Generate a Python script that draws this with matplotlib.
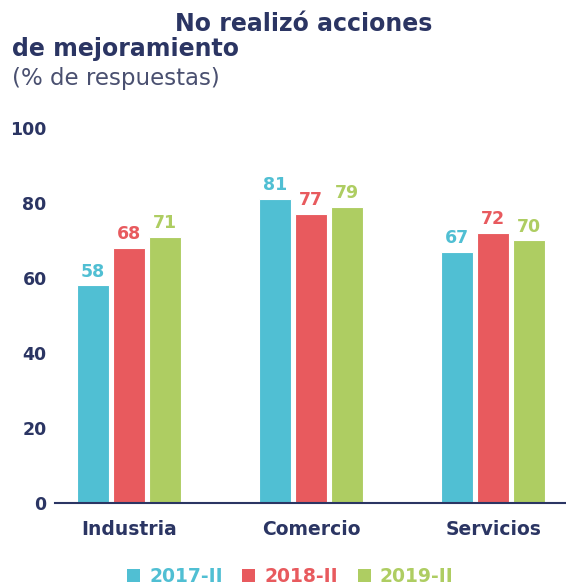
import matplotlib
matplotlib.use("Agg")
import matplotlib.pyplot as plt
from matplotlib.patches import Patch
import numpy as np

categories = ["Industria", "Comercio", "Servicios"]
series_names = ["2017-II", "2018-II", "2019-II"]
values_2017 = [58, 81, 67]
values_2018 = [68, 77, 72]
values_2019 = [71, 79, 70]
yticks = [0, 20, 40, 60, 80, 100]

colors = ["#50bfd3", "#e85a5e", "#aecd62"]
navy = "#2b3563"
plt.rcParams['font.family'] = ['DejaVu Sans']

fig = plt.figure(figsize=(5.66, 5.85), dpi=100)
ax = fig.add_axes([0.0972, 0.1402, 0.9028, 0.641])

x = np.arange(len(categories))
w = 0.178
step = 0.198
all_vals = [values_2017, values_2018, values_2019]
for i, (vals, c) in enumerate(zip(all_vals, colors)):
    pos = x + (i - 1) * step
    ax.bar(pos, vals, width=w, color=c, edgecolor="white", linewidth=0.8)
    for p, v in zip(pos, vals):
        ax.text(p, v + 1.3, str(v), ha="center", va="bottom", color=c,
                fontsize=12.5, fontweight="bold")

ax.set_xlim(-0.407, 2.40)
ax.set_ylim(0, 100)
ax.set_yticks(yticks)
ax.set_yticklabels([str(t) for t in yticks], fontsize=12.5, fontweight="bold", color=navy)
ax.tick_params(axis="y", length=0, pad=6)
ax.set_xticks(x)
ax.set_xticklabels(categories, fontsize=13.5, fontweight="bold", color=navy)
ax.tick_params(axis="x", length=0, pad=12)
for s in ["top", "right", "left"]:
    ax.spines[s].set_visible(False)
ax.spines["bottom"].set_color(navy)
ax.spines["bottom"].set_linewidth(1.5)
ax.set_facecolor("none")

fig.text(175/566, 1 - 24/585, "No realizó acciones", fontsize=17, fontweight="bold",
         color=navy, ha="left", va="center")
fig.text(12/566, 1 - 49/585, "de mejoramiento", fontsize=17, fontweight="bold",
         color=navy, ha="left", va="center")
fig.text(12/566, 1 - 78/585, "(% de respuestas)", fontsize=16.5,
         color="#4a5070", ha="left", va="center")

handles = [Patch(facecolor=c, edgecolor="none") for c in colors]
leg = fig.legend(handles, series_names, loc="center", bbox_to_anchor=(0.513, 1 - 577/585),
                 ncol=3, frameon=False, fontsize=13.5, handlelength=0.68, handleheight=0.68,
                 handletextpad=0.5, columnspacing=1.05)
for t, c in zip(leg.get_texts(), colors):
    t.set_color(c)
    t.set_fontweight("bold")

fig.savefig("out.png", dpi=100)
